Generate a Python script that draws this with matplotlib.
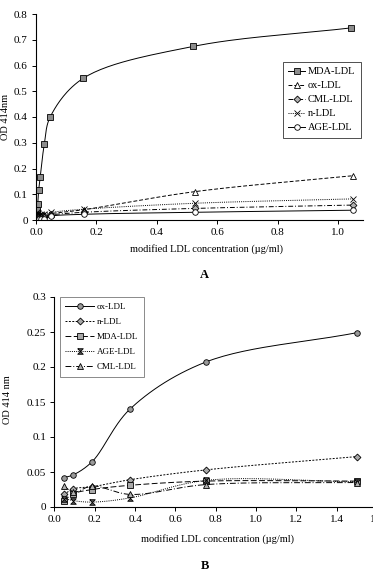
import numpy as np
import matplotlib
matplotlib.use("Agg")
import matplotlib.pyplot as plt

plt.rcParams['font.family'] = ['Liberation Serif', 'DejaVu Serif']
plt.rcParams['axes.linewidth'] = 0.8

# ---- panel A data ----
conc_a = [0.0016, 0.0026, 0.005, 0.0105, 0.0158, 0.026, 0.05, 0.158, 0.525, 1.05]
mda_a = [0.02, 0.03, 0.04, 0.062, 0.117, 0.167, 0.295, 0.40, 0.55, 0.674]
conc_mda_a = [0.001, 0.002, 0.003, 0.0056, 0.009, 0.014, 0.0275, 0.047, 0.156, 0.52, 1.043]
mda_a = [0.02, 0.03, 0.04, 0.062, 0.117, 0.167, 0.295, 0.40, 0.55, 0.674, 0.746]
ox_a = [0.005, 0.008, 0.01, 0.012, 0.015, 0.02, 0.025, 0.04, 0.11, 0.172]
cml_a = [0.012, 0.015, 0.015, 0.013, 0.012, 0.015, 0.02, 0.03, 0.045, 0.058]
n_a = [0.025, 0.03, 0.028, 0.02, 0.022, 0.025, 0.03, 0.042, 0.065, 0.082]
age_a = [0.0, 0.002, 0.003, 0.005, 0.005, 0.005, 0.015, 0.022, 0.03, 0.038]

# ---- panel B data ----
conc_b = [0.047, 0.094, 0.1875, 0.375, 0.75, 1.5]
ox_b = [0.042, 0.046, 0.065, 0.14, 0.207, 0.249]
n_b = [0.018, 0.026, 0.029, 0.039, 0.053, 0.072]
mda_b = [0.009, 0.019, 0.025, 0.031, 0.037, 0.037]
age_b = [0.012, 0.009, 0.007, 0.013, 0.038, 0.036]
cml_b = [0.030, 0.021, 0.030, 0.018, 0.032, 0.035]

xticks_a = [0.0, 0.2, 0.4, 0.6, 0.8, 1.0]
yticks_a = [0, 0.1, 0.2, 0.3, 0.4, 0.5, 0.6, 0.7, 0.8]
ylabels_a = ['0', '0.1', '0.2', '0.3', '0.4', '0.5', '0.6', '0.7', '0.8']
xticks_b = [0.0, 0.2, 0.4, 0.6, 0.8, 1.0, 1.2, 1.4, 1.6]
yticks_b = [0, 0.05, 0.1, 0.15, 0.2, 0.25, 0.3]
ylabels_b = ['0', '0.05', '0.1', '0.15', '0.2', '0.25', '0.3']

W, H = 373, 573
fig = plt.figure(figsize=(W / 100, H / 100), dpi=100)


def smooth(x, y, sx, sy, n=30):
    # centripetal catmull-rom through the points, like excel's smoothed lines
    P = np.column_stack([np.asarray(x, float) / sx, np.asarray(y, float) / sy])
    P = np.vstack([2 * P[0] - P[1], P, 2 * P[-1] - P[-2]])
    out = []
    for i in range(1, len(P) - 2):
        p0, p1, p2, p3 = P[i - 1], P[i], P[i + 1], P[i + 2]
        t0 = 0.0
        t1 = t0 + max(np.linalg.norm(p1 - p0), 1e-6) ** 0.5
        t2 = t1 + max(np.linalg.norm(p2 - p1), 1e-6) ** 0.5
        t3 = t2 + max(np.linalg.norm(p3 - p2), 1e-6) ** 0.5
        t = np.linspace(t1, t2, n)[:, None]
        a1 = (t1 - t) / (t1 - t0) * p0 + (t - t0) / (t1 - t0) * p1
        a2 = (t2 - t) / (t2 - t1) * p1 + (t - t1) / (t2 - t1) * p2
        a3 = (t3 - t) / (t3 - t2) * p2 + (t - t2) / (t3 - t2) * p3
        b1 = (t2 - t) / (t2 - t0) * a1 + (t - t0) / (t2 - t0) * a2
        b2 = (t3 - t) / (t3 - t1) * a2 + (t - t1) / (t3 - t1) * a3
        c = (t2 - t) / (t2 - t1) * b1 + (t - t1) / (t2 - t1) * b2
        out.append(c)
    C = np.vstack(out)
    return C[:, 0] * sx, C[:, 1] * sy


def series(ax, x, y, ls, marker, mfc, label, sx, sy, ms=4):
    xs, ys = smooth(x, y, sx, sy)
    ax.plot(xs, ys, color='black', ls=ls, lw=0.7)
    ax.plot(x, y, ls='none', marker=marker, mfc=mfc, mec='black', mew=0.6, ms=ms)
    # proxy for the legend
    return ax.plot([], [], color='black', ls=ls, lw=0.7, marker=marker,
                   mfc=mfc, mec='black', mew=0.6, ms=ms, label=label)[0]


def style(ax):
    for s in ['top', 'right']:
        ax.spines[s].set_visible(False)
    ax.tick_params(direction='out', length=3, width=0.7, labelsize=8, pad=3)


hourglass = [(-1, 1), (1, 1), (-1, -1), (1, -1), (-1, 1)]

# ---- panel A ----
axA = fig.add_axes([36 / W, 1 - 220 / H, 327 / W, 206 / H])
xlimA, ylimA = (0, 1.083), (0, 0.8)
sxA = xlimA[1] / 327
syA = ylimA[1] / 206
hA = []
hA.append(series(axA, conc_mda_a, mda_a, '-', 's', '#8c8c8c', 'MDA-LDL', sxA, syA))
hA.append(series(axA, conc_a, ox_a, (0, (4, 2)), '^', 'white', 'ox-LDL', sxA, syA))
hA.append(series(axA, conc_a, cml_a, (0, (5, 2, 1, 2)), 'D', '#b0b0b0', 'CML-LDL', sxA, syA, ms=3.5))
hA.append(series(axA, conc_a, n_a, (0, (1, 1.2)), 'x', 'none', 'n-LDL', sxA, syA))
hA.append(series(axA, conc_a, age_a, '-', 'o', 'white', 'AGE-LDL', sxA, syA))
axA.set_xlim(*xlimA)
axA.set_ylim(*ylimA)
axA.set_xticks(xticks_a)
axA.set_xticklabels(['%.1f' % v for v in xticks_a])
axA.set_yticks(yticks_a)
axA.set_yticklabels(ylabels_a)
style(axA)
legA = axA.legend(handles=hA, loc='upper left', bbox_to_anchor=((283 - 36) / 327, 1 - (62 - 14) / 206),
                  fontsize=7.5, frameon=True, fancybox=False, handlelength=1.6,
                  handletextpad=0.3, labelspacing=0.45, borderpad=0.5, borderaxespad=0)
legA.get_frame().set_edgecolor('black')
legA.get_frame().set_linewidth(0.6)
fig.text(6 / W, 1 - 117 / H, 'OD 414nm', rotation=90, ha='center', va='center', fontsize=7.5)
fig.text(207 / W, 1 - 249 / H, 'modified LDL concentration (\u00b5g/ml)', ha='center', va='center', fontsize=7.5)
fig.text(204 / W, 1 - 275 / H, 'A', ha='center', va='center', fontsize=9, fontweight='bold')

# ---- panel B ----
axB = fig.add_axes([54.5 / W, 1 - 507 / H, 322.4 / W, 210 / H])
xlimB, ylimB = (0, 1.6), (0, 0.3)
sxB = xlimB[1] / 322.4
syB = ylimB[1] / 210
hB = []
hB.append(series(axB, conc_b, ox_b, '-', 'o', '#9a9a9a', 'ox-LDL', sxB, syB))
hB.append(series(axB, conc_b, n_b, (0, (2, 1.5)), 'D', '#a8a8a8', 'n-LDL', sxB, syB, ms=3.5))
hB.append(series(axB, conc_b, mda_b, (0, (6, 2.5)), 's', '#a8a8a8', 'MDA-LDL', sxB, syB))
hB.append(series(axB, conc_b, age_b, (0, (1, 1.2)), hourglass, '#555555', 'AGE-LDL', sxB, syB))
hB.append(series(axB, conc_b, cml_b, (0, (6, 2, 1, 2)), '^', '#b0b0b0', 'CML-LDL', sxB, syB))
axB.set_xlim(*xlimB)
axB.set_ylim(*ylimB)
axB.set_xticks(xticks_b)
axB.set_xticklabels(['%.1f' % v for v in xticks_b])
axB.set_yticks(yticks_b)
axB.set_yticklabels(ylabels_b)
style(axB)
legB = axB.legend(handles=hB, loc='upper left', bbox_to_anchor=((60 - 54.5) / 322.4, 1.0),
                  fontsize=6.5, frameon=True, fancybox=False, handlelength=3.2,
                  handletextpad=0.3, labelspacing=0.75, borderpad=0.6, borderaxespad=0)
legB.get_frame().set_edgecolor('#555555')
legB.get_frame().set_linewidth(0.6)
fig.text(8 / W, 1 - 400 / H, 'OD 414 nm', rotation=90, ha='center', va='center', fontsize=7.5)
fig.text(217 / W, 1 - 539 / H, 'modified LDL concentration (\u00b5g/ml)', ha='center', va='center', fontsize=7.5)
fig.text(205 / W, 1 - 566 / H, 'B', ha='center', va='center', fontsize=9, fontweight='bold')

fig.savefig('out.png', dpi=100)
